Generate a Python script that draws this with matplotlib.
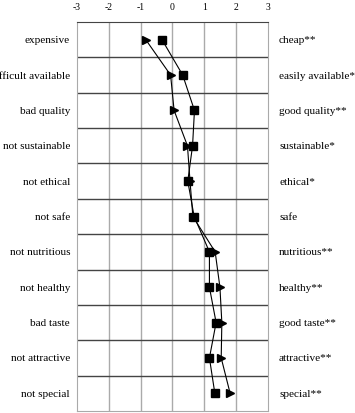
import numpy as np
import matplotlib.pyplot as plt

plt.rcParams['font.family'] = ['Liberation Serif', 'DejaVu Serif']

left_labels = ['expensive', 'difficult available', 'bad quality', 'not sustainable',
               'not ethical', 'not safe', 'not nutritious', 'not healthy',
               'bad taste', 'not attractive', 'not special']
right_labels = ['cheap**', 'easily available**', 'good quality**', 'sustainable*',
                'ethical*', 'safe', 'nutritious**', 'healthy**',
                'good taste**', 'attractive**', 'special**']
squares = [-0.33, 0.32, 0.69, 0.63, 0.48, 0.68, 1.16, 1.16, 1.37, 1.16, 1.33]
triangles = [-0.84, -0.06, 0.05, 0.47, 0.55, 0.64, 1.34, 1.49, 1.55, 1.53, 1.81]
xticks = [-3, -2, -1, 0, 1, 2, 3]

fig = plt.figure(figsize=(3.55, 4.13), dpi=100)
ax = fig.add_axes([77/355, 2/413, 191/355, 389/413])

y = np.arange(len(left_labels))
ax.plot(squares, y, color='black', lw=0.8, marker='s', ms=5.5, zorder=3)
ax.plot(triangles, y, color='black', lw=0.8, marker='>', ms=6, zorder=3)

ax.set_xlim(-3, 3)
ax.set_ylim(len(y) - 0.5, -0.5)
for xv in xticks[1:-1]:
    ax.axvline(xv, color='#aaaaaa', lw=1, zorder=1)
for yv in np.arange(0.5, len(y) - 1, 1):
    ax.axhline(yv, color='#444444', lw=1, zorder=1)

for s in ['left', 'right']:
    ax.spines[s].set_color('#aaaaaa')
ax.spines['top'].set_color('#444444')
ax.spines['bottom'].set_color('#aaaaaa')

ax.xaxis.tick_top()
ax.set_xticks(xticks)
ax.set_xticklabels([str(t) for t in xticks], fontsize=7)
ax.tick_params(axis='x', length=0, pad=7)

ax.set_yticks(y)
ax.set_yticklabels(left_labels, fontsize=8.1)
ax.tick_params(axis='y', length=0, pad=5)

ax2 = ax.twinx()
ax2.set_ylim(ax.get_ylim())
ax2.set_yticks(y)
ax2.set_yticklabels(right_labels, fontsize=8.1)
ax2.tick_params(axis='y', length=0, pad=8)
for s in ax2.spines.values():
    s.set_visible(False)

fig.savefig('out.png', dpi=100)
